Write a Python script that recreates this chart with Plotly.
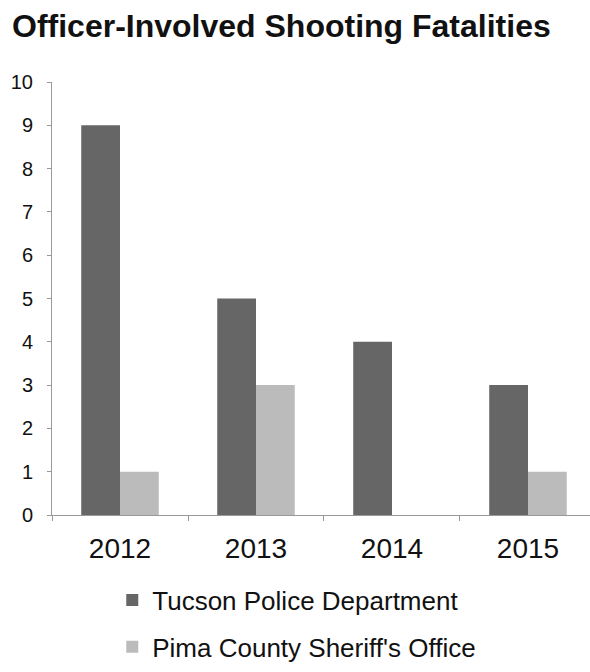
import plotly.graph_objects as go

years = ["2012", "2013", "2014", "2015"]
tucson = [9, 5, 4, 3]
pima = [1, 3, 0, 1]
series_names = ["Tucson Police Department", "Pima County Sheriff's Office"]
colors = ["#666666", "#bbbbbb"]

fig = go.Figure()
for i, (name, vals) in enumerate(zip(series_names, [tucson, pima])):
    fig.add_trace(go.Bar(x=years, y=vals, name=name, marker_color=colors[i],
                         marker_line_width=0, legendgroup=name))

W, H = 590, 672
fig.update_layout(
    width=W, height=H,
    margin=dict(l=52, r=0, t=82, b=157),
    paper_bgcolor="white", plot_bgcolor="white",
    font=dict(family="Liberation Sans, Arial, sans-serif", color="#111111"),
    title=dict(text="<b>Officer-Involved Shooting Fatalities</b>",
               x=12 / W, xanchor="left", y=1 - 26 / H, yanchor="middle",
               font=dict(size=32, color="#111111")),
    barmode="group", bargap=0.43, bargroupgap=0,
    showlegend=True,
    legend=dict(x=0.112, xanchor="left", y=-0.142, yanchor="top",
                orientation="v", font=dict(size=26, color="#111111"),
                tracegroupgap=10, itemwidth=30, traceorder="grouped"),
)
fig.update_xaxes(type="category", range=[-0.5, 3.456], showline=True,
                 linecolor="#999999", linewidth=1, automargin=False,
                 ticks="outside", tickson="boundaries", ticklen=5, tickcolor="#999999",
                 ticklabelstandoff=8,
                 tickfont=dict(size=28, color="#111111"), showgrid=False)
fig.update_yaxes(range=[0, 10], dtick=1, showline=True, linecolor="#999999", linewidth=1,
                 ticks="outside", ticklen=4, tickcolor="#999999", showgrid=False,
                 ticklabelstandoff=10, automargin=False,
                 zeroline=False, tickfont=dict(size=20, color="#111111"))

fig.write_html("out.html")
